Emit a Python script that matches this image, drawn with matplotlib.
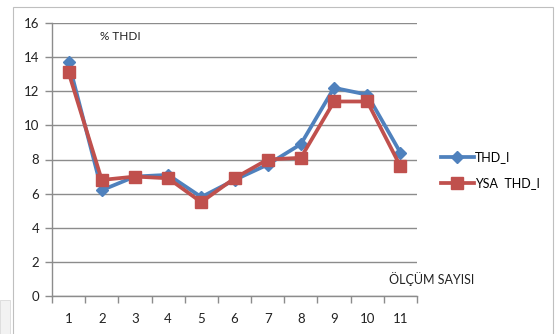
import matplotlib
matplotlib.use("Agg")
import matplotlib.pyplot as plt
from matplotlib.patches import Rectangle

plt.rcParams['font.family'] = ['Lato', 'DejaVu Sans']

olcum = [1, 2, 3, 4, 5, 6, 7, 8, 9, 10, 11]
thd_i = [13.7, 6.2, 7.0, 7.1, 5.8, 6.8, 7.7, 8.9, 12.2, 11.8, 8.4]
ysa_thd_i = [13.1, 6.8, 7.0, 6.9, 5.5, 6.9, 8.0, 8.1, 11.4, 11.4, 7.6]
y_ticks = [0, 2, 4, 6, 8, 10, 12, 14, 16]

blue = '#4F81BD'
red = '#C0504D'
grid_c = '#8C8C8C'

fig = plt.figure(figsize=(5.55, 3.34), dpi=100)
fig.patch.set_facecolor('white')

# chart frame
fig.patches.append(Rectangle((13 / 555, -0.05), (553 - 13) / 555, 1 - 7 / 334 + 0.05,
                             transform=fig.transFigure, fill=False,
                             edgecolor='#BFBFBF', linewidth=0.8))
fig.patches.append(Rectangle((0, 0), 10 / 555, 34 / 334, transform=fig.transFigure,
                             facecolor='#F2F2F2', edgecolor='#D9D9D9', linewidth=0.6))

ax = fig.add_axes([52 / 555, 1 - 296 / 334, (417 - 52) / 555, (296 - 23) / 334])

x = list(range(len(olcum)))
ax.plot(x, thd_i, color=blue, linewidth=2.7, marker='D', markersize=6,
        label='THD_I', zorder=3)
ax.plot(x, ysa_thd_i, color=red, linewidth=2.7, marker='s', markersize=8.5,
        label='YSA  THD_I', zorder=4)

ax.set_xlim(-0.5, len(olcum) - 0.5)
ax.set_ylim(0, 16)
ax.set_yticks(y_ticks)
ax.set_yticklabels([str(v) for v in y_ticks])
ax.yaxis.grid(True, color=grid_c, linewidth=1.0)
ax.set_axisbelow(True)

ax.set_xticks(x)
ax.set_xticklabels([str(v) for v in olcum])
ax.set_xticks([i - 0.5 for i in range(len(olcum) + 1)], minor=True)
ax.tick_params(axis='x', which='major', length=0, pad=12, labelsize=9.5, colors='#222222')
ax.tick_params(axis='x', which='minor', length=5, width=1.0, color=grid_c)
ax.tick_params(axis='y', length=5, width=1.0, color=grid_c, labelsize=9.5,
               labelcolor='#222222', pad=4)

for s in ['top', 'right']:
    ax.spines[s].set_visible(False)
for s in ['left', 'bottom']:
    ax.spines[s].set_color(grid_c)
    ax.spines[s].set_linewidth(1.0)

fig.text(100 / 555, 1 - 37 / 334, '% THDI', fontsize=8.5,
         ha='left', va='center', color='#222222')
fig.text(432 / 555, 1 - 279 / 334, 'ÖLÇÜM SAYISI', fontsize=9,
         ha='center', va='center', color='#222222')

fig.legend(loc='center left', bbox_to_anchor=(436 / 555, 1 - 170 / 334),
           frameon=False, fontsize=9, handlelength=2.6, labelspacing=1.1,
           handletextpad=0.1, borderaxespad=0)

fig.savefig('out.png', dpi=100)
